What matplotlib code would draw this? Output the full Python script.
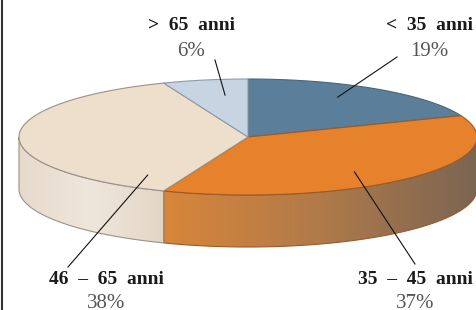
import numpy as np
import matplotlib
matplotlib.use("Agg")
import matplotlib.pyplot as plt
from matplotlib.patches import Polygon
from matplotlib.colors import to_rgb

labels = ["<  35  anni", "35  –  45  anni", "46  –  65  anni", ">  65  anni"]
values = [19, 37, 38, 6]
top_colors = ["#5b7f9b", "#e6822b", "#eedecc", "#c7d5e2"]
edge_colors = ["#4a6478", "#9a5a2a", "#9a9288", "#8f9aa6"]
side_grad = {1: ["#d8863a", "#b07a4a", "#7a6552"],
             2: ["#e6dacb", "#efe6db", "#e2d6c6"]}
# label centre (px), leader start (px), leader end (angle deg, radius frac)
label_pos = [(429, 26), (415, 279), (106, 279), (191, 26)]
leader_start = [(397, 57), (415, 264), (68, 267), (215, 60)]
leader_end = [(60.3, 0.79), (-52.3, 0.76), (236.3, 0.79), (97.9, 0.73)]

cx, cy, a, b, depth = 248, 137, 229, 58, 52

plt.rcParams['font.family'] = ['Liberation Serif', 'DejaVu Serif']
fig = plt.figure(figsize=(4.76, 3.10), dpi=100)
ax = fig.add_axes([0, 0, 1, 1])
ax.set_xlim(0, 476)
ax.set_ylim(310, 0)
ax.axis("off")


def pt(t, r=1.0):
    t = np.radians(t)
    return cx + a * r * np.cos(t), cy - b * r * np.sin(t)


fracs = np.array(values) / sum(values) * 360
ends = 90 - np.cumsum(fracs)
starts = ends + fracs

# sides (front half only)
for i in range(len(values)):
    lo, hi = ends[i], starts[i]
    for k in (-1, 0, 1):
        f0, f1 = max(lo, -180 + 360 * k), min(hi, 360 * k)
        if f1 <= f0:
            continue
        ts = np.linspace(f0, f1, 80)
        xs, ys = pt(ts)
        poly = np.vstack([np.column_stack([xs, ys]),
                          np.column_stack([xs[::-1], ys[::-1] + depth])])
        patch = Polygon(poly, closed=True, facecolor="none",
                        edgecolor=edge_colors[i], lw=0.8, zorder=2)
        ax.add_patch(patch)
        cols = np.array([to_rgb(c) for c in side_grad[i]])
        n = 200
        pos = np.linspace(0, 1, n)
        grad = np.stack([np.interp(pos, np.linspace(0, 1, len(cols)), cols[:, j])
                         for j in range(3)], axis=-1)[None, :, :]
        im = ax.imshow(grad, extent=[xs.min(), xs.max(), ys.max() + depth, ys.min()],
                       aspect="auto", zorder=1.5, interpolation="bilinear")
        im.set_clip_path(patch)

# top wedges
for i in range(len(values)):
    ts = np.linspace(starts[i], ends[i], 100)
    xs, ys = pt(ts)
    poly = np.vstack([[cx, cy], np.column_stack([xs, ys])])
    ax.add_patch(Polygon(poly, closed=True, facecolor=top_colors[i],
                         edgecolor=edge_colors[i], lw=0.8, zorder=3))

# labels and leader lines
for i in range(len(values)):
    x, y = label_pos[i]
    ax.text(x, y, labels[i], ha="center", va="center", fontsize=14,
            fontweight="bold", color="#1a1a1a", zorder=5)
    ax.text(x, y + 25, f"{values[i]}%", ha="center", va="center",
            fontsize=15, color="#555555", zorder=5)
    ex, ey = pt(*leader_end[i])
    sx, sy = leader_start[i]
    ax.plot([sx, ex], [sy, ey], color="#111111", lw=0.8, zorder=4)

ax.plot([2, 2], [0, 310], color="#333333", lw=1.5, zorder=6)

fig.savefig("out.png", dpi=100)
